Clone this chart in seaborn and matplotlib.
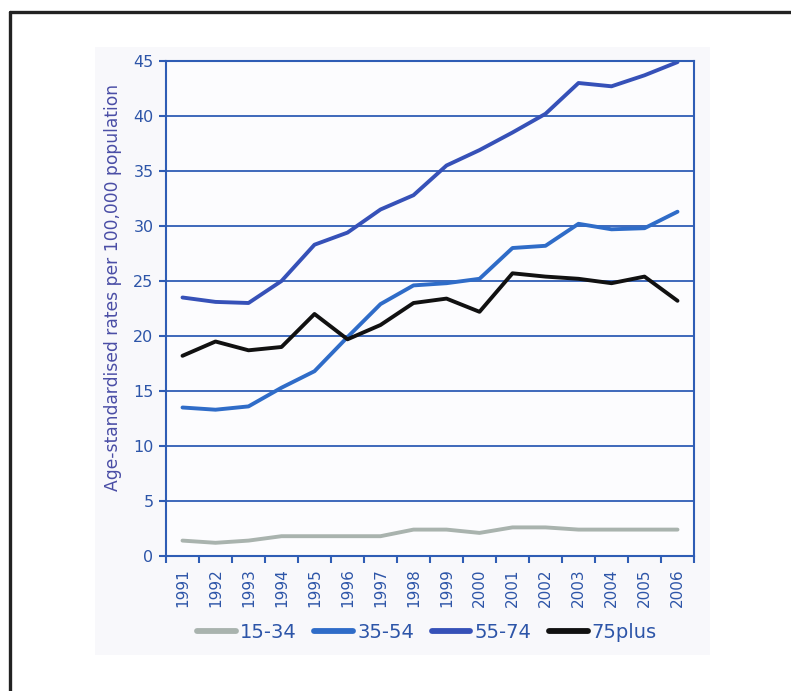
import matplotlib
matplotlib.use("Agg")
import matplotlib.pyplot as plt
import seaborn as sns
import pandas as pd
import numpy as np
from matplotlib.lines import Line2D
from matplotlib.patches import Rectangle

years = list(range(1991, 2007))
g15_34 = [1.4, 1.2, 1.4, 1.8, 1.8, 1.8, 1.8, 2.4, 2.4, 2.1, 2.6, 2.6, 2.4, 2.4, 2.4, 2.4]
g35_54 = [13.5, 13.3, 13.6, 15.3, 16.8, 19.9, 22.9, 24.6, 24.8, 25.2, 28.0, 28.2, 30.2, 29.7, 29.8, 31.3]
g55_74 = [23.5, 23.1, 23.0, 25.0, 28.3, 29.4, 31.5, 32.8, 35.5, 36.9, 38.5, 40.2, 43.0, 42.7, 43.7, 44.9]
g75plus = [18.2, 19.5, 18.7, 19.0, 22.0, 19.7, 21.0, 23.0, 23.4, 22.2, 25.7, 25.4, 25.2, 24.8, 25.4, 23.2]
series_names = ["15-34", "35-54", "55-74", "75plus"]
yticks = [0, 5, 10, 15, 20, 25, 30, 35, 40, 45]

df = pd.DataFrame({
    "year": years * 4,
    "rate": g15_34 + g35_54 + g55_74 + g75plus,
    "group": sum([[n] * len(years) for n in series_names], []),
})

palette = {"15-34": "#a9b3ae", "35-54": "#2f6cc8", "55-74": "#3651b8", "75plus": "#111111"}
tick_color = "#2d55a8"
grid_color = "#2f5db5"

sns.set_style("white")
plt.rcParams["font.family"] = ["DejaVu Sans"]

fig = plt.figure(figsize=(7.91, 6.91), dpi=100)
fig.patch.set_facecolor("white")

# light panel
fig.add_artist(Rectangle((95 / 791, 1 - 655 / 691), (710 - 95) / 791, (655 - 47) / 691,
                         transform=fig.transFigure, facecolor="#f8f8fb", edgecolor="none", zorder=0))
# outer border (left and top)
fig.add_artist(Line2D([9.5 / 791, 9.5 / 791], [0, 1 - 11.5 / 691], transform=fig.transFigure,
                      color="#222222", lw=2.4))
fig.add_artist(Line2D([9.5 / 791, 1], [1 - 11.5 / 691, 1 - 11.5 / 691], transform=fig.transFigure,
                      color="#222222", lw=2.4))

ax = fig.add_axes([166 / 791, 1 - 556 / 691, (694 - 166) / 791, (556 - 61) / 691])
ax.set_facecolor("#fcfcfe")

sns.lineplot(data=df, x="year", y="rate", hue="group", palette=palette,
             hue_order=series_names, lw=2.8, ax=ax, legend=False)

ax.set_xlim(1990.5, 2006.5)
ax.set_ylim(0, 45)
ax.set_yticks(yticks)
ax.set_xticks(years)
ax.set_xticks(np.arange(1990.5, 2007, 1.0), minor=True)
ax.set_xticklabels([str(y) for y in years], rotation=90)
ax.tick_params(axis="x", which="major", length=0, pad=9, labelsize=11, colors=tick_color)
ax.tick_params(axis="x", which="minor", length=5, width=1.5, color=grid_color, direction="out", bottom=True)
ax.tick_params(axis="y", length=5, width=1.5, color=grid_color, direction="out", left=True,
               labelsize=11.5, labelcolor=tick_color, pad=4)

ax.yaxis.grid(True, color=grid_color, lw=1.3)
ax.xaxis.grid(False)
ax.set_axisbelow(True)
for side in ["left", "right", "bottom", "top"]:
    ax.spines[side].set_visible(True)
    ax.spines[side].set_color(grid_color)
    ax.spines[side].set_linewidth(1.5)
ax.set_xlabel("")
ax.set_ylabel("")

fig.text(113 / 791, 1 - 287 / 691, "Age-standardised rates per 100,000 population",
         rotation=90, ha="center", va="center", fontsize=12.3, color="#4a4ea6")

handles = [Line2D([0], [0], color=palette[n], lw=4.2) for n in series_names]
fig.legend(handles, series_names, loc="center", bbox_to_anchor=(427 / 791, 1 - 632 / 691),
           ncol=4, frameon=False, fontsize=14, handlelength=2.0, handletextpad=0.2,
           columnspacing=0.9, labelcolor=tick_color)

fig.savefig("out.png", dpi=100)
